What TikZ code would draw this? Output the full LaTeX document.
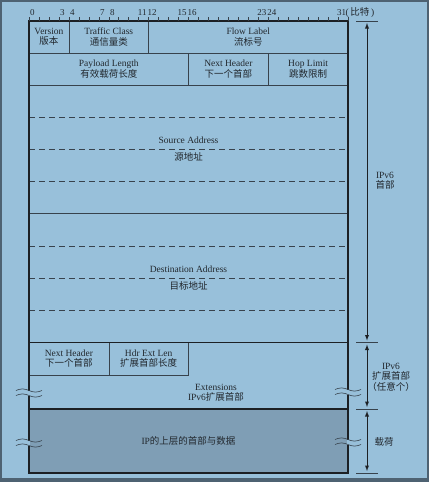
\documentclass[tikz,border=0pt]{standalone}
\usepackage{fontspec}
\setmainfont{Liberation Serif}
\newfontfamily\cjk{Noto Sans CJK SC}
\usepackage{tikz}
\usetikzlibrary{arrows}
\usepackage{color}
\definecolor{Sky-1}{RGB}{152,192,218}
\definecolor{Sky-2}{RGB}{127,158,181}
\definecolor{Sky-3}{RGB}{78,98,114}
\definecolor{Ink-1}{RGB}{28,32,36}
\definecolor{Ink-2}{RGB}{55,66,76}
\definecolor{Ink-3}{RGB}{34,40,46}
\newcommand{\fieldfont}{\fontsize{9.5}{10.5}\selectfont}
\newcommand{\bitfont}{\fontsize{9}{9}\selectfont}
% two waves that cut the frame edge at (#1,#2)
\newcommand{\wavebreak}[2]{%
  \fill[Sky-1] (#1-1.2,#2-2.5) rectangle (#1+1.2,#2+2.5);
  \draw[wave] (#1-13,#2-2.5) sin ++(6.5,-1.6) cos ++(6.5,1.6) sin ++(6.5,1.6) cos ++(6.5,-1.6);
  \draw[wave] (#1-13,#2+2.5) sin ++(6.5,-1.6) cos ++(6.5,1.6) sin ++(6.5,1.6) cos ++(6.5,-1.6);
}

\begin{document}
\begin{tikzpicture}[x=1pt, y=-1pt,
    field/.style={draw=Ink-2, line width=0.6pt, inner sep=0pt, outer sep=0pt, align=center, text=Ink-3, font=\fieldfont},
    frame/.style={draw=Ink-1, line width=1.3pt},
    addrline/.style={draw=Ink-2, line width=0.6pt, dash pattern=on 6pt off 4pt},
    tick/.style={draw=Ink-2, line width=0.5pt},
    bitnum/.style={inner sep=0pt, text=Ink-3, font=\bitfont},
    bar/.style={draw=Ink-2, line width=0.7pt},
    dim/.style={<->, >=latex, draw=Ink-1, line width=0.9pt, shorten <=2pt, shorten >=2pt},
    side/.style={align=center, inner sep=0pt, text=Ink-3, font=\fieldfont},
    wave/.style={draw=Ink-2, line width=0.6pt}]
    \useasboundingbox (0,0) rectangle (429,482);
    \fill[Sky-3] (0,0) rectangle (429,482);
    \fill[Sky-1] (2,2) rectangle (427,478);

    % fixed header
    \node[field, minimum width=39.9,  minimum height=32] (ver)  at ( 48.95, 37) {Version\\{\cjk 版本}};
    \node[field, minimum width=79.7,  minimum height=32] (tc)   at (108.75, 37) {Traffic Class\\{\cjk 通信量类}};
    \node[field, minimum width=199.4, minimum height=32] (fl)   at (248.3,  37) {Flow Label\\{\cjk 流标号}};
    \node[field, minimum width=159.5, minimum height=32] (plen) at (108.75, 69) {Payload Length\\{\cjk 有效载荷长度}};
    \node[field, minimum width=79.8,  minimum height=32] (nh)   at (228.4,  69) {Next Header\\{\cjk 下一个首部}};
    \node[field, minimum width=79.7,  minimum height=32] (hl)   at (308.15, 69) {Hop Limit\\{\cjk 跳数限制}};
    \node[field, minimum width=319, minimum height=128.5] (src) at (188.5, 149.25) {Source Address\\[7pt]{\cjk 源地址}};
    \node[field, minimum width=319, minimum height=129]   (dst) at (188.5, 278)    {Destination Address\\[7pt]{\cjk 目标地址}};
    \foreach \y in {117,149,181,246,278,310}
      \draw[addrline] (29,\y) -- (348,\y);

    % extension headers and payload
    \node[field, minimum width=79.8, minimum height=32.5] (enh) at ( 68.9,  358.75) {Next Header\\{\cjk 下一个首部}};
    \node[field, minimum width=79.7, minimum height=32.5] (ehl) at (148.65, 358.75) {Hdr Ext Len\\{\cjk 扩展首部长度}};
    \node[side] (ext) at (216, 393) {Extensions\\IPv6{\cjk 扩展首部}};
    \node[field, fill=Sky-2, minimum width=319, minimum height=64] (pay) at (188.5, 441) {IP{\cjk 的上层的首部与数据}};

    \draw[frame] (ver.north west) rectangle (pay.south east);
    \draw[frame] (dst.south west) -- (dst.south east);
    \draw[frame] (pay.north west) -- (pay.north east);

    \wavebreak{29}{393}
    \wavebreak{29}{443}
    \wavebreak{348}{392}
    \wavebreak{348}{442}

    % bit ruler
    \foreach \i in {0,...,32}
      \draw[tick] (29+9.97*\i,21) -- ++(0,-4);
    \foreach \b in {0,3,4,7,8,11,12,15,16,23,24,31}
      \node[bitnum] at (32.5+9.97*\b,12.5) {\b};
    \node[bitnum, anchor=west, font=\fieldfont] (unit) at (345.5,12.5) {(\,{\cjk 比特}\,)};

    % sizes on the right
    \coordinate (t0) at (367, 21);
    \coordinate (t1) at (367, 342.5);
    \coordinate (t2) at (367, 409);
    \coordinate (t3) at (367, 473);
    \foreach \y in {21,342.5,409,473}
      \draw[bar] (356,\y) -- (378,\y);
    \draw[dim] (t0) -- (t1);
    \draw[dim] (t1) -- (t2);
    \draw[dim] (t2) -- (t3);
    \node[side] (hdr) at (385, 180.5) {IPv6\\{\cjk 首部}};
    \node[side] (exh) at (391, 377)   {IPv6\\{\cjk 扩展首部}\\{\cjk （任意个）}};
    \node[side] (pl)  at (384, 441.5) {{\cjk 载荷}};
  \end{tikzpicture}
\end{document}
